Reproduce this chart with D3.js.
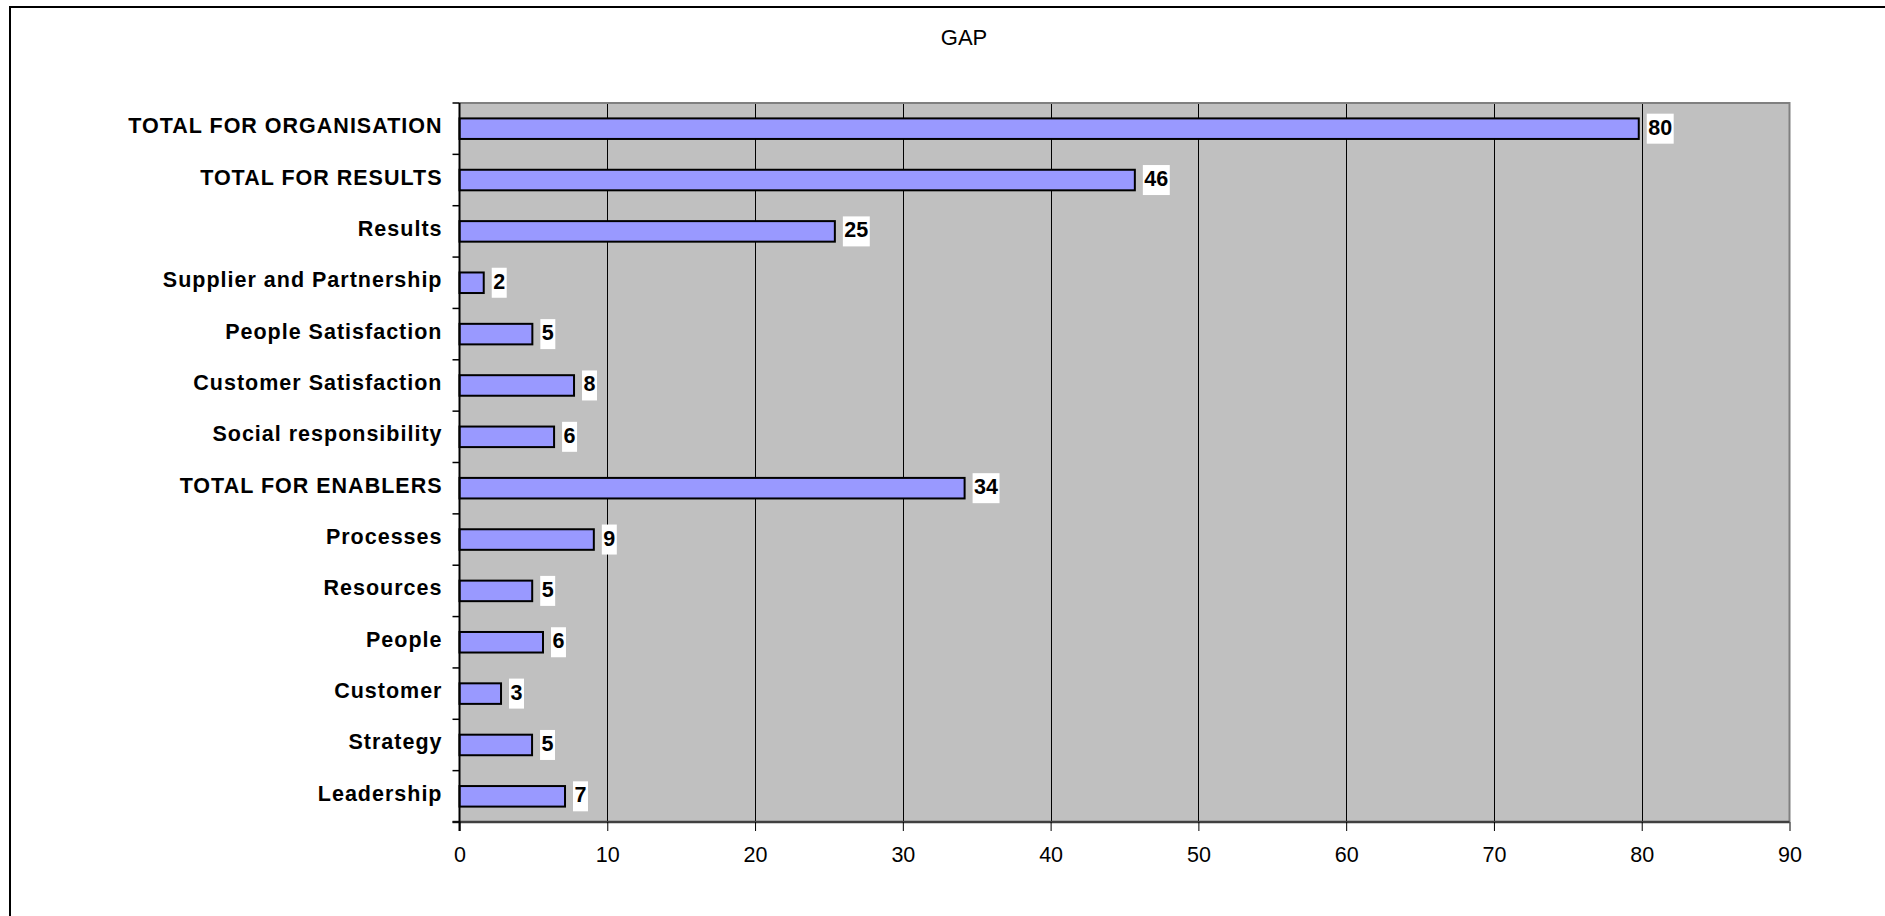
<!DOCTYPE html>
<html>
<head>
<meta charset="utf-8">
<script src="https://cdn.jsdelivr.net/npm/d3@7"></script>
<style>
  html, body { margin: 0; padding: 0; background: #ffffff; overflow: hidden; }
  svg { display: block; }
</style>
</head>
<body>
<svg id="chart" width="1885" height="916"></svg>
<script>
// ---- Data ----
const title = "GAP";
const categories = [
  "TOTAL FOR ORGANISATION",
  "TOTAL FOR RESULTS",
  "Results",
  "Supplier and Partnership",
  "People Satisfaction",
  "Customer Satisfaction",
  "Social responsibility",
  "TOTAL FOR ENABLERS",
  "Processes",
  "Resources",
  "People",
  "Customer",
  "Strategy",
  "Leadership"
];
const values = [79.8, 45.7, 25.4, 1.64, 4.93, 7.75, 6.4, 34.18, 9.09, 4.92, 5.65, 2.81, 4.91, 7.14];
const valueLabels = ["80", "46", "25", "2", "5", "8", "6", "34", "9", "5", "6", "3", "5", "7"];
const xTicks = [0, 10, 20, 30, 40, 50, 60, 70, 80, 90];

// ---- Layout ----
const svg = d3.select("#chart");
const plot = { left: 459.5, right: 1789.5, top: 103, bottom: 822 };

const x = d3.scaleLinear().domain([0, 90]).range([plot.left, plot.right]);
const y = d3.scaleBand().domain(categories).range([plot.top, plot.bottom])
  .paddingInner(0.6).paddingOuter(0.3);

// outer chart border
svg.append("rect")
  .attr("x", 10).attr("y", 7).attr("width", 1900).attr("height", 940)
  .attr("fill", "#ffffff").attr("stroke", "#000000").attr("stroke-width", 2);

// title
svg.append("text")
  .attr("x", 964).attr("y", 45)
  .attr("text-anchor", "middle")
  .style("font-family", "'Liberation Sans', Arial, sans-serif")
  .style("font-size", "22px")
  .attr("fill", "#000")
  .text(title);

// plot background
svg.append("rect")
  .attr("x", plot.left).attr("y", plot.top)
  .attr("width", plot.right - plot.left).attr("height", plot.bottom - plot.top)
  .attr("fill", "#C0C0C0");

// vertical gridlines
svg.append("g")
  .selectAll("line")
  .data(xTicks.filter(d => d > 0 && d < 90))
  .join("line")
  .attr("x1", d => Math.round(x(d)) + 0.5).attr("x2", d => Math.round(x(d)) + 0.5)
  .attr("y1", plot.top).attr("y2", plot.bottom)
  .attr("stroke", "#000").attr("stroke-width", 1);

// plot border top/right (gray)
svg.append("path")
  .attr("d", `M${plot.left},${plot.top}H${plot.right}V${plot.bottom}`)
  .attr("fill", "none").attr("stroke", "#808080").attr("stroke-width", 2);

// bars
svg.append("g")
  .selectAll("rect")
  .data(categories.map((c, i) => ({ c, v: values[i] })))
  .join("rect")
  .attr("x", x(0))
  .attr("y", d => y(d.c))
  .attr("width", d => x(d.v) - x(0))
  .attr("height", y.bandwidth())
  .attr("fill", "#9999FF")
  .attr("stroke", "#000")
  .attr("stroke-width", 2);

// x axis (bottom)
const xAxis = d3.axisBottom(x).tickValues(xTicks).tickSize(9).tickPadding(16).tickFormat(d3.format("d"));
const gx = svg.append("g").attr("transform", `translate(0,${plot.bottom})`).call(xAxis);
gx.select(".domain").attr("stroke", "#404040").attr("stroke-width", 2.5)
  .attr("d", `M${plot.left - 7},0H${plot.right}`);
gx.selectAll(".tick line").attr("stroke", "#000").attr("stroke-width", 1);
gx.selectAll(".tick text")
  .style("font-family", "'Liberation Sans', Arial, sans-serif")
  .style("font-size", "21.5px")
  .attr("fill", "#000");

// y axis (left) with category labels
const yAxis = d3.axisLeft(y).tickSize(0).tickPadding(17);
const gy = svg.append("g").attr("transform", `translate(${plot.left},0)`).call(yAxis);
gy.select(".domain").attr("stroke", "#000").attr("stroke-width", 2)
  .attr("d", `M0,${plot.top}V${plot.bottom + 9}`);
gy.selectAll(".tick text")
  .attr("dy", "0.21em")
  .style("font-family", "'Liberation Sans', Arial, sans-serif")
  .style("font-size", "21.5px")
  .style("font-weight", "bold")
  .style("letter-spacing", "1.0px")
  .attr("fill", "#000");

// y tick marks at category boundaries
const boundaries = d3.range(categories.length + 1).map(i => plot.top + i * y.step());
svg.append("g")
  .selectAll("line")
  .data(boundaries)
  .join("line")
  .attr("x1", plot.left - 7).attr("x2", plot.left)
  .attr("y1", d => d).attr("y2", d => d)
  .attr("stroke", "#000").attr("stroke-width", 1.5);

// data labels with white boxes
const lbl = svg.append("g")
  .selectAll("g")
  .data(categories.map((c, i) => ({ c, v: values[i], t: valueLabels[i] })))
  .join("g");
lbl.each(function(d) {
  const g = d3.select(this);
  const cy = y(d.c) + y.bandwidth() / 2;
  const bx = x(d.v) + 8;
  const t = g.append("text")
    .attr("x", bx + 1.5).attr("y", cy + 6)
    .style("font-family", "'Liberation Sans', Arial, sans-serif")
    .style("font-size", "21.5px")
    .style("font-weight", "bold")
    .attr("fill", "#000")
    .text(d.t);
  const w = t.node().getComputedTextLength();
  g.insert("rect", "text")
    .attr("x", bx).attr("y", cy - 15)
    .attr("width", w + 3).attr("height", 30)
    .attr("fill", "#ffffff");
});
</script>
</body>
</html>
